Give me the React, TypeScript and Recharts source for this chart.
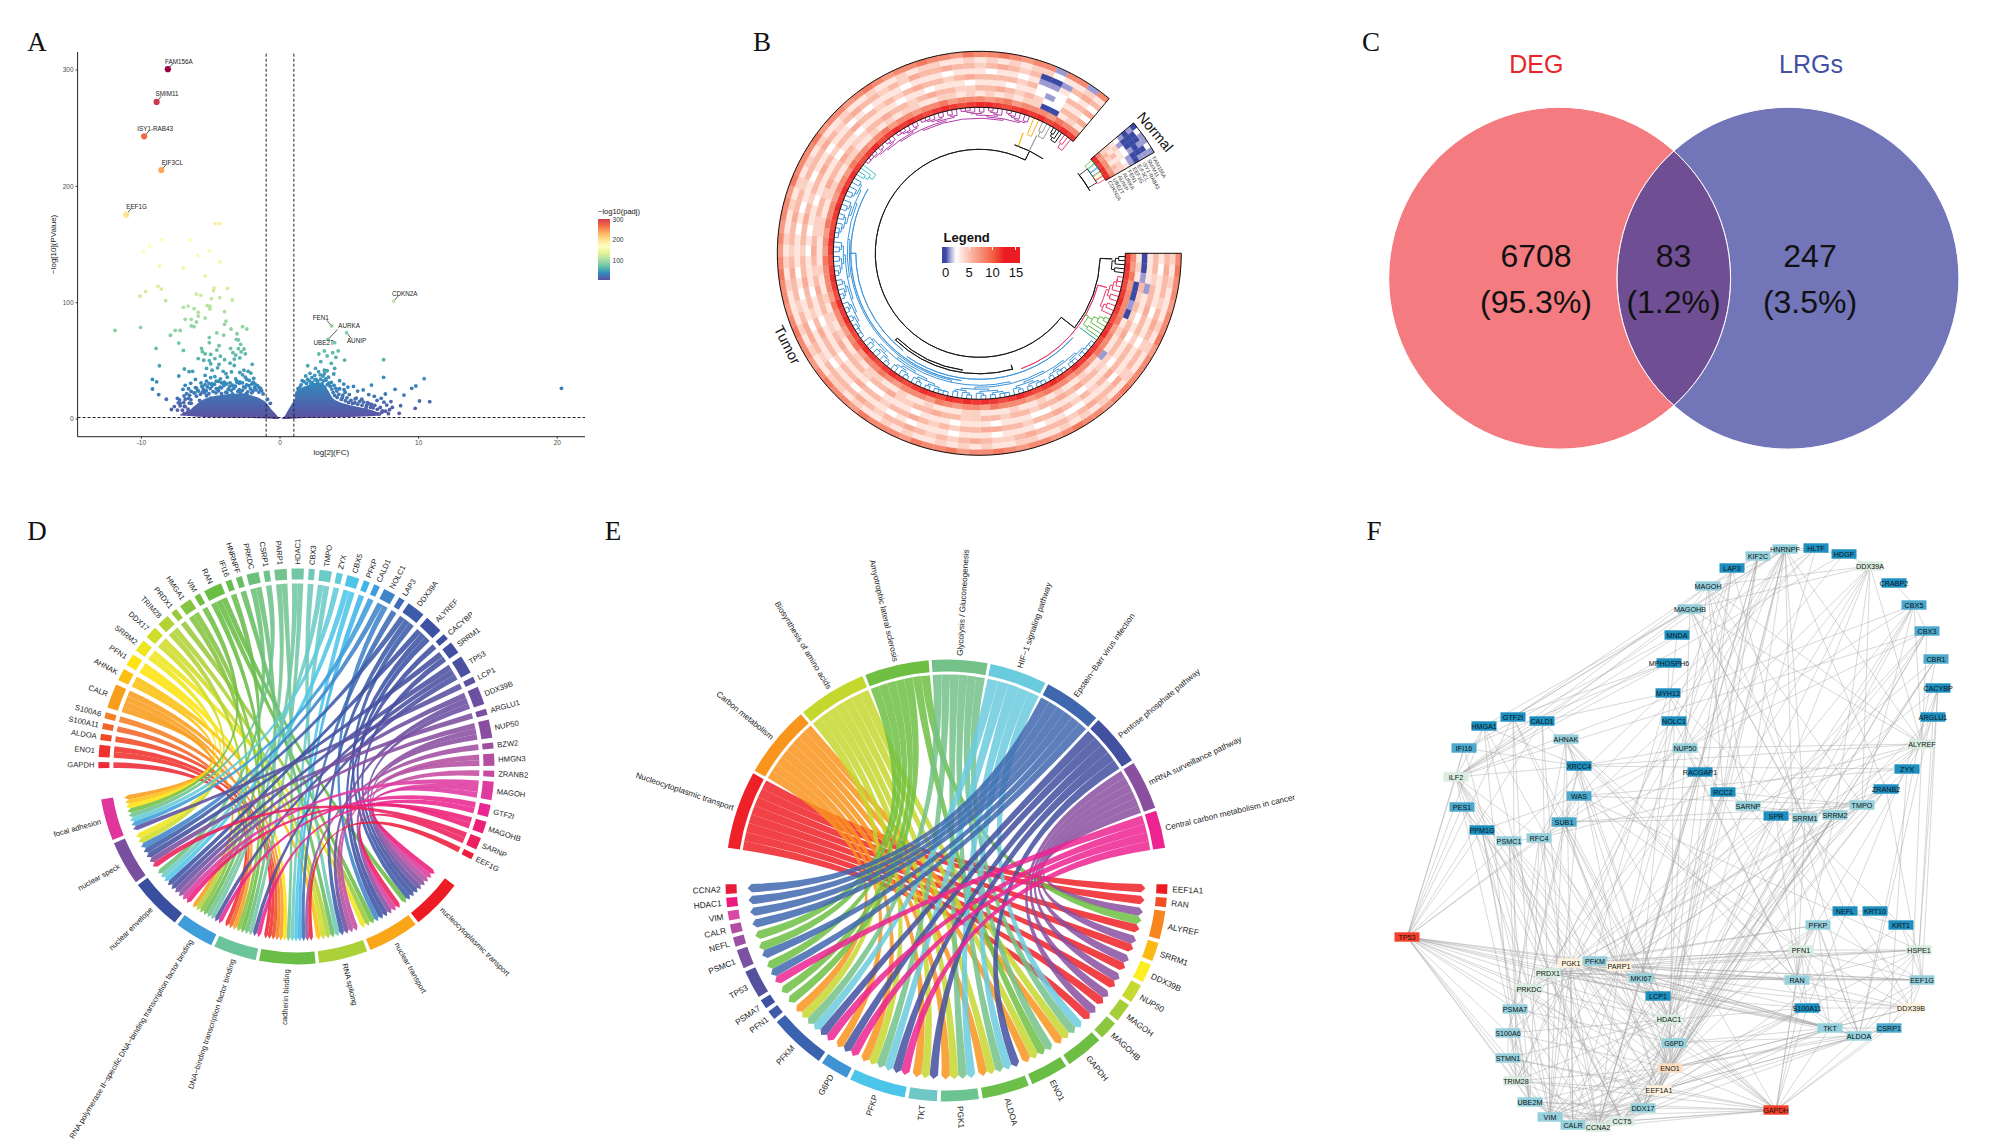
import React from 'react';
import { ComposedChart, ScatterChart, PieChart, Pie, Cell, Scatter, Area, XAxis, YAxis, ReferenceLine, Customized, Label } from 'recharts';

const SANS = '"Liberation Sans", Arial, sans-serif';

// ---------- A: volcano ----------
const volcanoTicksX = [-10, 0, 10, 20];
const volcanoTicksY = [0, 100, 200, 300];
const volcanoNamed = [
  { name: 'FAM156A', x: -8.09, y: 300.7, dx: 11, dy: -8 },
  { name: 'SMIM11', x: -8.9, y: 272.6, dx: 10.4, dy: -8 },
  { name: 'ISY1-RAB43', x: -9.8, y: 243, dx: 11, dy: -8 },
  { name: 'EIF3CL', x: -8.56, y: 214, dx: 11, dy: -8 },
  { name: 'EEF1G', x: -11.1, y: 175.7, dx: 10.4, dy: -8 },
  { name: 'CDKN2A', x: 8.2, y: 101.4, dx: 11, dy: -8 },
  { name: 'FEN1', x: 3.73, y: 80, dx: -11, dy: -8 },
  { name: 'AURKA', x: 3.47, y: 68.5, dx: 21, dy: -14 },
  { name: 'UBE2T', x: 3.94, y: 65.6, dx: -11, dy: 0 },
  { name: 'AUNIP', x: 4.8, y: 74.2, dx: 10, dy: 8 },
];
const volcanoPairs: number[][] = [
  [-4.66,168],[-4.34,168],[-8.56,154.4],[-6.47,153.9],[-9.4,148.4],[-9.84,144.4],[-5.1,144.4],[-5.94,140.4],[-4.34,135.2],[-8.69,131.5],
  [-6.97,129.5],[-5.4,122.9],[-8.8,114],[-8.56,111.7],[-9.7,109.7],[-10.1,105.7],[-8.25,101.7],[-4.75,112.6],[-3.78,112.3],[-4.8,110.3],
  [-6.03,107.4],[-5.72,106.3],[-4.94,103.4],[-4.34,104.3],[-3.44,102.3],[-6.97,96],[-6.63,97.1],[-6.2,94.8],[-5.25,97.4],[-5.06,97],
  [-5.06,94.6],[-4,92.3],[-5.9,91.7],[-5.9,88.5],[-5.4,86.8],[-6.84,85.7],[-6.4,85.7],[-6.03,83.4],[-3.9,84.2],[-4,81.4],
  [-6.4,80],[-6.2,79.4],[-11.9,76.2],[-10.06,78.8],[-7.56,76.2],[-7.2,76.2],[-7.9,72],[-4.56,74],[-4.06,72.2],[-3.53,77.4],
  [-2.7,79.4],[-2.4,77.4],[-3.1,73.3],[-5.1,70],[-3.15,68.5],[-3.0,68],[-7.3,65.3],[-5.1,65.6],[-4.4,63],[-2.84,64.2],
  [-8.94,60.7],[-6.97,59],[-5.66,60.7],[-5.6,57.9],[-4.56,59.3],[-3.56,60.7],[-3.0,60.5],[-2.6,60.2],[-5.4,56],[-5.0,55.5],
  [-3.4,57],[-3.2,55],[-2.8,57.8],[-2.5,56],[-5.9,52],[-5.5,50.5],[-5.1,50.2],[-4.7,52],[-4.3,54],[-4.0,51],
  [-3.3,51.5],[-2.9,52.5],[-5.0,47.5],[-4.4,47],[-3.6,48],[-3.3,46],[-2.0,47],[-8.7,45.8],[-6.9,43],[-6.56,40.7],
  [-6.3,41],[-5.3,43.5],[-4.9,42],[-4.5,44],[-4.1,41],[-3.9,39],[-3.5,40.5],[-2.9,40],[-2.6,42],[-2.3,41],
  [-2.1,39.5],[-2.7,38],[-7.3,37],[-6.1,34],[-5.4,37.5],[-5.0,35.5],[-4.7,36.5],[-4.3,34.5],[-3.8,36],[-3.2,34.5],
  [-2.5,36],[-1.9,35],[-9.2,34],[-8.9,32],[-6.44,30.7],[-6.84,29],[-5.7,31],[-5.3,32.5],[-4.9,30.5],[-4.6,32.5],
  [-1.8,30],[-1.5,27],[-1.4,25],[-9.2,25.8],[-7,25.5],[-6.6,26],[-6.1,27],[-5.6,27.5],[-8.75,21],[-6.2,22.5],
  [-5.9,24],[-8.2,17],[-7.4,17.8],[-7.2,13.5],[-6.6,17.8],[-6.9,11],[-7.4,7.7],[-6.4,13.5],[-6.1,9.5],[-5.8,16],
  [-5.7,12],[-6.3,7],[-6.7,5.4],[-5.5,7],[-5.2,3.6],[-5.0,18],[-5.3,20],[-4.6,26],[-0.9,17],[-0.7,13.5],
  // grain along the top of the left cloud
  [-4.42,32.3],[-4.02,31.6],[-3.13,32.8],[-2.71,31.1],[-2.22,33.2],[-1.93,31.7],[-5.41,29.6],[-5.12,30.4],[-4.73,29.8],[-3.84,30.2],
  [-3.42,29.1],[-2.93,30.7],[-2.41,29.4],[-2.03,30.1],[-1.62,28.7],[-5.63,28.2],[-5.24,27.6],[-4.91,28.4],[-4.33,27.3],[-4.04,28.9],
  [-3.62,27.9],[-3.21,28.3],[-2.63,27.7],[-2.24,28.6],[-1.83,27.2],[-1.41,26.4],[-6.02,26.6],[-5.52,25.4],[-5.03,26.2],[-4.51,25.7],
  [-4.21,26.8],[-3.73,25.6],[-3.33,26.3],[-2.94,25.2],[-2.52,26.9],[-2.13,25.8],[-1.72,25.1],[-1.32,24.2],[-6.41,23.7],[-5.93,24.6],
  [-5.61,23.2],[-5.32,24.4],[-4.83,23.6],[-4.43,24.3],[-3.91,23.1],[-3.52,24.5],[-3.04,23.8],[-2.72,24.7],[-2.33,23.3],[-1.94,24.1],
  [-1.52,23.2],[-1.22,21.6],[-6.73,21.8],[-6.14,22.3],[-5.74,21.3],[-5.43,22.6],[-5.13,21.7],[-4.62,22.5],[-4.22,21.9],[-3.82,22.7],
  [-3.43,21.6],[-2.84,22.4],[-2.44,21.8],[-2.04,22.6],[-6.92,19.8],[-6.52,20.4],[-6.03,19.6],[-7.24,16.4],[-6.83,17.1],[-6.43,16.6],
  [-7.34,13.9],[-6.94,14.3],[-6.54,13.6],[-7.62,10.7],[-7.21,11.4],[-6.84,10.6],[-7.83,8.2],[-7.04,7.6],[-6.63,8.4],[-6.92,4.7],
  [7.47,51],[7.47,35.8],[10.4,34.7],[9.8,28.4],[9.5,26.4],[10.06,15.5],[10.8,14.9],[9.75,9.2],[8.94,20.6],[8.3,25.5],
  [20.3,26.4],[8.6,4.9],[8.7,11.5],[7.6,21.5],[6.6,29.2],[7.3,17.8],[4.2,58.5],[3.8,57],[4.66,50.7],[3.2,58.5],
  [2.8,55.9],[3.4,54.2],[4.03,53],[2.94,49.3],[3.7,47.9],[2,45.8],[2.56,43.6],[3.94,43.6],[3.2,42],[2.16,39.3],
  [2.78,40.7],[3.88,38.7],[3.2,39],[3.4,41.5],[2.9,38],[2.5,37.5],[1.85,37],[2.3,35.5],[3.5,36],[4.3,33],
  [4.6,30],[4.9,27.5],[5.3,28],[5.6,24],[6.0,25],[6.4,21],[6.8,19.5],[7.0,16],[7.5,14.5],[7.7,12],
  [8.0,15],[8.1,10],[7.9,8],[7.4,7],[7.1,4.5],[5.0,21],[5.5,18],[5.9,17],[6.3,14],[6.6,12.5],
  [4.3,26],[3.9,29],[3.7,31.5],[4.1,24],[4.7,23],[1.6,33],[1.3,26],[1.15,20],[-4.2,31],[-3.6,31],
  [-3.1,31.5],[-2.9,32],[-2.4,34],[2.6,34],[3.1,37],[3.3,34.5],[2.0,34],[4.5,18.5],[6.2,9.5],[5.4,14],
  // grain along the right cloud
  [1.52,29.4],[1.73,32.1],[1.91,30.6],[2.12,32.8],[2.33,31.2],[2.52,33.6],[2.71,32.3],[2.93,34.2],[3.12,32.7],[3.31,33.4],
  [3.52,30.8],[3.62,28.2],[3.74,25.7],[3.83,22.9],[3.94,20.3],[4.12,18.6],[4.24,21.2],[4.42,16.8],[4.53,20.6],[4.71,15.7],
  [4.83,18.2],[4.94,14.3],[5.12,16.1],[5.23,13.4],[5.42,17.3],[5.61,12.8],[5.74,15.2],[5.92,11.9],[6.03,14.6],[6.24,11.4],
  [6.42,13.2],[6.53,10.1],[6.72,9.6],[6.84,11.8],[7.02,8.3],[7.23,9.9],[7.34,5.8],[7.62,6.7],[7.82,4.6],[1.34,24.3],
  [1.43,27.1],[1.22,22.4],[3.41,29.6],[3.23,27.2],[2.84,29.8],[2.62,29.1],[2.24,30.3],[3.03,30.1],[4.03,26.4],[4.62,25.2],
];
const volcanoScatter = volcanoPairs.map(([x, y]) => ({ x, y }));
// solid cloud of points either side of zero: lower and upper edge
const cloudLeft = [
  { x: -7.2, low: 3, y: 4 }, { x: -6.6, low: 2.5, y: 7 }, { x: -6, low: 2, y: 13 }, { x: -5.5, low: 1.8, y: 17 }, { x: -5, low: 1.5, y: 19 }, { x: -4, low: 1.2, y: 21 }, { x: -3, low: 1, y: 22 },
  { x: -2.5, low: 1, y: 22 }, { x: -2, low: 0.8, y: 20 }, { x: -1.5, low: 0.6, y: 18 }, { x: -1, low: 0.4, y: 14 }, { x: -0.6, low: 0.2, y: 8 }, { x: -0.25, low: 0, y: 3.5 }, { x: -0.05, low: 0, y: 0.3 },
];
const cloudRight = [
  { x: 0.1, low: 0, y: 0.3 }, { x: 0.3, low: 0, y: 2 }, { x: 0.6, low: 0.1, y: 8 }, { x: 0.9, low: 0.2, y: 14 }, { x: 1.2, low: 0.4, y: 20 }, { x: 1.5, low: 0.6, y: 26 }, { x: 2, low: 0.8, y: 29 }, { x: 2.5, low: 0.9, y: 31 },
  { x: 3, low: 1, y: 31 }, { x: 3.4, low: 1.1, y: 26 }, { x: 3.8, low: 1.3, y: 18 }, { x: 4.2, low: 1.5, y: 15 }, { x: 5, low: 1.8, y: 12 }, { x: 6, low: 2.2, y: 9.5 }, { x: 6.8, low: 2.6, y: 7 }, { x: 7.3, low: 3, y: 4 },
];
const spectral = ['#5E4FA2', '#3288BD', '#66C2A5', '#ABDDA4', '#E6F598', '#FFFFBF', '#FEE08B', '#FDAE61', '#F46D43', '#D53E4F', '#9E0142'];
const colorbarTicks = [300, 200, 100];

// ---------- B: circular heatmap (hex digit = expression 0..15, inner ring first) ----------
const tumorRings = [
  'dedcdedcde cdedecdedc dedcdedede cdedcdedcd edcdedecde dcdedcdede dedcdecded edcdedcdee dcdedecded',
  '8797888978 8978878898 7888978878 9788878988 7987889788 8978798878 8798878978 8788978887 8978887988',
  '3430010343 3133433434 3343334433 3433433443 4334343433 4333443344 3344334343 4433443434 3434400343',
  '0015454565 5445565655 4554554455 6554465545 5565445565 4565445546 5565445565 5456554455 6545422556',
  '3331332323 3233323332 2333233323 3323332233 3233323323 3323233233 3323323333 2332333233 3233212332',
  '5545565545 5565454565 5455665545 4565545565 5455654556 5545565455 6545565545 4565545655 5545222556',
  '3233323323 3323332233 2333233323 3323233323 3233323323 2333232332 3323323233 3233323332 3323113232',
  '5655456545 5465565455 5654456545 4565545655 5545665455 6545565545 5565456554 5465565545 6545001565',
  '4343334343 3433434343 3443343434 3343433434 4334343334 3434334343 4343343343 3434433434 3434423343',
  '8988788978 8898788987 8878988798 8978889788 9878898788 9878788798 8897887898 7889887988 9878818818',
];
const normalRings = ['eedeee', '878878', '454354', '435344', '343323', '212211', '100100', '000001', '100101', '021121'];
const normalGenes = ['CDKN2A', 'UBE2T', 'AUNIP', 'AURKA', 'FEN1', 'EEF1G', 'EIF3CL', 'ISY1-RAB43', 'SMIM11', 'FAM156A'];
const heatStops: [number, string][] = [[0, '#3a49a3'], [1, '#9b9bd2'], [2, '#ffffff'], [3, '#fee6df'], [5, '#f9bba8'], [10, '#f26a4e'], [15, '#ec1c24']];
const legendTicks = [0, 5, 10, 15];
// dendrogram clades, clockwise from east
const cladeColors = ['#111111', '#e8386b', '#5cb947', '#2a9d8f', '#3b93d9', '#3fc1c9', '#b23fa8', '#f7b516', '#999999', '#111111', '#e8386b'];
const cladeSpans = [8, 17.5, 10, 1, 175, 6, 73, 4, 5, 5, 4.5];
const cladeLeaves = [5, 9, 6, 1, 92, 4, 40, 2, 3, 4, 3];
const cladeBase = [133, 132, 126, 124.5, 130, 130, 135, 128, 131, 134, 132];
// arcs: colour, radius, from, to
const dendroArcs: [string, number, number, number][] = [
  ['#111111', 104, 63.8, 322], ['#111111', 121, -38, -2.4], ['#111111', 120.5, 226, 286], ['#111111', 118, 226, 262],
  ['#111111', 114, 56, 72], ['#e8386b', 122.8, -70, -15], ['#3b93d9', 123.5, 180, 232], ['#3b93d9', 126, 235, 318], ['#3b93d9', 128.5, 150, 262],
];
// rises: colour, angle, inner radius, outer radius
const dendroRises: [string, number, number, number][] = [
  ['#111111', 63.8, 104, 114], ['#111111', 322, 104, 121], ['#111111', -2.4, 121, 133], ['#111111', 286, 116, 121], ['#111111', 226, 118, 121],
  ['#e8386b', -15, 122.8, 132], ['#5cb947', -30, 121, 126], ['#f7b516', 70, 114, 128], ['#999999', 64, 114, 131], ['#3b93d9', 180, 123.5, 130],
];

// ---------- C: venn ----------
const vennSets = ['DEG', 'LRGs'];
const vennCounts = ['6708', '83', '247'];
const vennShares = ['(95.3%)', '(1.2%)', '(3.5%)'];

// ---------- D: gene to GO term chord ----------
const goTerms = ['focal adhesion', 'nuclear speck', 'nuclear envelope', 'RNA polymerase II−specific DNA−binding transcription factor binding', 'DNA−binding transcription factor binding', 'cadherin binding', 'RNA splicing', 'nuclear transport', 'nucleocytoplasmic transport'];
const goWeights = [12.4, 13.2, 15.5, 11.6, 12.8, 16.7, 14.6, 15.3, 15.2];
const goColors = ['#e0359b', '#7b4fa0', '#3a4ea0', '#3f9dd9', '#6cc49a', '#6abd45', '#acd037', '#faa61a', '#ed1c24'];
const goGenes = ['GAPDH','ENO1','ALDOA','S100A11','S100A6','CALR','AHNAK','PFN1','SRRM2','DDX17','TRIM28','PRDX1','HMGA1','VIM','RAN','IFI16','HNRNPF','PRKDC','CSRP1','PARP1','HDAC1','CBX3','TMPO','ZYX','CBX5','PFKP','CALD1','NOLC1','LAP3','DDX39A','ALYREF','CACYBP','SRRM1','TP53','LCP1','DDX39B','ARGLU1','NUP50','BZW2','HMGN3','ZRANB2','MAGOH','GTF2I','MAGOHB','SARNP','EEF1G'];
const goGeneColors = ['#ee2737','#f0322d','#f04a25','#f2642a','#f57f25','#f99d1c','#fdc010','#fde30f','#eee61f','#cfdc29','#b2d235','#98ca3c','#85c441','#72be44','#6abd45','#69bd52','#69bd66','#6cc07a','#6ec28c','#73c48f','#72c6a6','#70c8b8','#6ccbc6','#62cbd9','#4fc6e8','#40b6e6','#3f9dd9','#4085c8','#3f6cb5','#3d5ba8','#3d52a3','#3f50a2','#4350a1','#4b50a0','#5a50a0','#6b4fa0','#7b4fa0','#8a4ea0','#a04ea0','#b44ea1','#c64ba0','#de3aa0','#ea2791','#ed1f79','#ed1f5c','#ed1f3a'];
const goLinks = [[5],[4,5],[5],[4],[5],[0,3,4,5],[0,6],[0,5],[1,7],[1,6],[3,6],[7],[3,4],[0],[4,7,8],[3],[6],[2,4],[0],[3,5],[3,4],[6],[2,5],[0],[2,5],[5],[0],[1,7],[5],[1,6,8],[2,7,8],[7],[1,8],[2,3,4],[0],[2,6,8],[1],[2,7,8],[5],[6,8],[6],[2,7,8],[3,4],[2,8],[1,7],[5]];

// ---------- E: gene to KEGG pathway chord ----------
const keggTerms = ['Nucleocytoplasmic transport', 'Carbon metabolism', 'Biosynthesis of amino acids', 'Amyotrophic lateral sclerosis', 'Glycolysis / Gluconeogenesis', 'HIF−1 signaling pathway', 'Epstein−Barr virus infection', 'Pentose phosphate pathway', 'mRNA surveillance pathway', 'Central carbon metabolism in cancer'];
const keggWeights = [21.1, 19.5, 18.6, 17.4, 15, 15.5, 15.7, 14, 13.3, 10.2];
const keggColors = ['#ee2128', '#f9941d', '#c4d72f', '#6fbf43', '#74c18a', '#6bcbde', '#3f67ae', '#4350a0', '#8a4f9f', '#ec2390'];
const keggGenes = ['EEF1A1','RAN','ALYREF','SRRM1','DDX39B','NUP50','MAGOH','MAGOHB','GAPDH','ENO1','ALDOA','PGK1','TKT','PFKP','G6PD','PFKM','PFN1','PSMA7','TP53','PSMC1','NEFL','CALR','VIM','HDAC1','CCNA2'];
const keggGeneColors = ['#ed1c24','#f04e23','#f7861e','#fdb913','#fcee21','#c6d92e','#a6ce39','#8cc63f','#6fbe44','#69bd45','#6cbf4b','#6cc490','#6ec8c5','#4bc5ea','#3f93d3','#3b62ae','#3f5aa8','#3e52a2','#54519f','#7a52a1','#9b4fa3','#b14fa3','#d94aa5','#ee1a7e','#e91c3a'];
const keggLinks = [[0],[0],[0,3,8],[0,8],[0,8],[0,8],[0,8],[0,8],[1,2,4,5],[1,2,3,4],[1,2,4,5,7],[1,2,4,5],[1,2,7],[1,2,4,5,7,9],[1,7,9],[1,2,4,5,7,9],[3],[3],[3,6,9],[3,6],[3],[6],[6],[6],[6]];

// ---------- F: PPI network (name, x, y, colour level) ----------
const nodeLevels = ['#1c8fc0', '#4aa9cd', '#95d0dc', '#d8ecdf', '#fff3dd', '#fddcc0', '#f4402b'];
const ppiNodes: [string, number, number, number][] = [
  ['HNRNPF',405,39,2],['HLTF',436,38,0],['KIF2C',378,46,2],['HDGF',464,44,0],['LAP3',352,58,0],['DDX39A',490,56,3],['CRABP2',514,73,0],['MAGOH',328,76,2],
  ['CBX5',534,95,1],['MAGOHB',310,99,2],['CBX3',547,121,1],['MNDA',297,125,0],['CBR1',556,149,1],['MPHOSPH6',289,153,0],['CACYBP',558,178,0],['MYH13',288,183,0],
  ['GTF2I',133,207,0],['ARGLU1',553,207,0],['CALD1',162,211,0],['NOLC1',294,211,0],['HMGA1',104,216,0],['AHNAK',186,229,2],['ALYREF',542,234,3],['IFI16',84,238,1],
  ['NUP50',305,238,2],['XRCC4',199,256,0],['ZYX',527,259,0],['RACGAP1',320,262,0],['ILF2',76,267,3],['ZRANB2',506,279,0],['RCC2',343,282,0],['WAS',199,286,1],
  ['TMPO',482,295,2],['PES1',82,297,1],['SARNP',368,296,2],['SPR',396,306,0],['SRRM2',455,305,2],['SRRM1',425,308,2],['SUB1',184,312,1],['PPM1G',102,320,0],
  ['RFC4',159,328,2],['PSMC1',129,331,2],['NEFL',465,401,0],['KRT10',495,401,0],['PFKP',438,415,2],['KRT1',521,415,0],['TP53',27,427,6],['PFN1',421,440,3],
  ['HSPE1',539,440,3],['PGK1',191,453,4],['PFKM',215,451,2],['PARP1',239,456,4],['PRDX1',168,463,3],['MKI67',261,468,2],['RAN',417,470,2],['EEF1G',542,470,2],
  ['PRKDC',149,479,3],['LCP1',278,486,0],['S100A11',427,498,0],['DDX39B',531,498,4],['PSMA7',135,499,2],['HDAC1',289,509,3],['TKT',450,518,2],['CSRP1',509,518,1],
  ['S100A6',128,523,2],['ALDOA',479,526,2],['G6PD',294,533,2],['STMN1',128,548,2],['ENO1',290,558,5],['TRIM28',136,571,3],['EEF1A1',279,580,4],['UBE2M',150,592,2],
  ['DDX17',263,598,2],['GAPDH',396,600,6],['VIM',170,607,2],['CCT5',242,611,3],['CALR',193,615,2],['CCNA2',218,617,3],
];
const ppiEdges: Record<string, string> = {
  TP53: 'ILF2 IFI16 HMGA1 GTF2I CALD1 PES1 PPM1G PSMC1 RFC4 SUB1 PGK1 PFKM PARP1 PRDX1 MKI67 LCP1 PRKDC PSMA7 S100A6 STMN1 TRIM28 UBE2M HDAC1 G6PD ENO1 TKT EEF1A1 VIM',
  GAPDH: 'HDAC1 G6PD ENO1 EEF1A1 DDX17 CCT5 CCNA2 CALR VIM UBE2M S100A11 TKT ALDOA RAN PFN1 CSRP1 PFKP PGK1 PFKM PARP1 TRIM28 STMN1 XRCC4 MKI67 DDX39B',
  ALYREF: 'NUP50 MAGOH MAGOHB HNRNPF SARNP SRRM1 SRRM2 TMPO DDX39A DDX39B XRCC4 RCC2 ZYX CBX5 CBX3 CACYBP ARGLU1',
  HNRNPF: 'KIF2C MAGOH MAGOHB SARNP SRRM1 DDX17 HDGF HLTF EEF1A1 PARP1 PRDX1 RAN TRIM28 HDAC1',
  DDX39A: 'MAGOH MAGOHB HDGF NUP50 SRRM2 SARNP TMPO PARP1 ENO1 PRKDC',
  MAGOH: 'MAGOHB NUP50 SARNP SRRM1 KIF2C TMPO RCC2 ILF2 GTF2I',
  MAGOHB: 'NUP50 SARNP SRRM1 CALD1 GTF2I HMGA1 SRRM2 DDX39B',
  CBX5: 'CBX3 CRABP2 ILF2 HDAC1 EEF1A1 PARP1 TMPO NUP50 LCP1',
  CBX3: 'ILF2 HDAC1 EEF1A1 TRIM28 ENO1 NUP50 MKI67',
  CBR1: 'ENO1 G6PD ALDOA DDX17 PGK1',
  CACYBP: 'S100A6 S100A11 ALDOA HSPE1 EEF1G',
  ARGLU1: 'SRRM2 HSPE1',
  ZYX: 'VIM CSRP1 PFN1 XRCC4 WAS',
  ZRANB2: 'SRRM1 HNRNPF PRKDC EEF1G CCT5 ENO1 PARP1',
  TMPO: 'WAS SUB1 HDAC1 PRKDC PARP1 MKI67 CCNA2 RCC2 SPR',
  SRRM2: 'SARNP RAN CCT5 HDAC1 DDX17 EEF1A1',
  SRRM1: 'DDX17 RAN EEF1A1 PARP1 SUB1 NEFL',
  SARNP: 'RCC2 NUP50 DDX39B',
  SPR: 'PGK1 RAN ALDOA ENO1',
  RCC2: 'RACGAP1 RFC4 CCNA2 MKI67',
  RACGAP1: 'MKI67 CCNA2 HDAC1 RFC4 PGK1 LAP3',
  NUP50: 'HDAC1 RAN XRCC4 WAS SUB1',
  NOLC1: 'PARP1 SUB1 HNRNPF ENO1 RAN',
  MYH13: 'VIM KRT1 CALD1 PFN1 MPHOSPH6',
  MNDA: 'IFI16 MKI67',
  MPHOSPH6: 'HMGA1 IFI16 ILF2',
  LAP3: 'CALR ENO1 PGK1 ALDOA KIF2C',
  KIF2C: 'CCNA2 MKI67 STMN1 HDAC1 RCC2 EEF1A1',
  HLTF: 'RFC4 PSMC1 ENO1 ILF2',
  HDGF: 'ILF2 NUP50',
  GTF2I: 'HDAC1 PRKDC TRIM28 HNRNPF ENO1',
  CALD1: 'ILF2 CALR VIM RAN',
  HMGA1: 'XRCC4 ILF2 TRIM28 PARP1 PRDX1',
  IFI16: 'ILF2 PRKDC XRCC4',
  AHNAK: 'VIM S100A6 S100A11 PFN1 CALR ENO1 XRCC4 HDAC1 RAN',
  XRCC4: 'PRKDC PARP1 SUB1 RFC4 HDAC1 ILF2',
  ILF2: 'PES1 PPM1G PRKDC ENO1 HNRNPF DDX17 EEF1A1 PSMC1 RFC4',
  WAS: 'VIM PFN1 HSPE1 SUB1 PPM1G',
  PES1: 'PPM1G CCT5 ENO1 UBE2M',
  SUB1: 'RFC4 PARP1 PRKDC EEF1A1 HDAC1 G6PD',
  PPM1G: 'UBE2M PSMC1 EEF1A1 PSMA7 CCT5 VIM',
  RFC4: 'PSMC1 CCNA2 MKI67 PARP1 PSMA7 UBE2M DDX17',
  PSMC1: 'PSMA7 UBE2M CCT5 CCNA2 HDAC1 PFKM',
  NEFL: 'KRT10 KRT1 PFKP',
  KRT10: 'KRT1',
  KRT1: 'HSPE1 EEF1G CCT5',
  PFKP: 'PGK1 PFKM G6PD ALDOA ENO1 TKT PFN1 HDAC1 EEF1G',
  PFN1: 'S100A11 ALDOA EEF1G HSPE1 VIM PFKM PGK1 PARP1 RAN TKT DDX39B',
  HSPE1: 'EEF1G PGK1 PRDX1 PARP1 ALDOA TKT S100A11 RAN',
  RAN: 'EEF1G PRDX1 PGK1 PARP1 MKI67 DDX39B S100A11',
  EEF1G: 'PGK1 PARP1 PRDX1 MKI67 CSRP1 TKT ALDOA DDX39B',
  DDX39B: 'PRDX1 ENO1 S100A11 PGK1 TKT',
  PGK1: 'PFKM PARP1 PRDX1 MKI67 LCP1 G6PD ENO1 ALDOA TKT CCNA2 VIM CALR DDX17 TRIM28',
  PFKM: 'PARP1 G6PD ENO1 ALDOA TKT LCP1 S100A11',
  PARP1: 'PRDX1 MKI67 HDAC1 PRKDC CCNA2 EEF1A1 ENO1 VIM',
  PRDX1: 'PRKDC PSMA7 ENO1 TKT VIM CCT5 ALDOA',
  MKI67: 'LCP1 CCNA2 HDAC1 TKT',
  LCP1: 'S100A11 TKT VIM CALR',
  PRKDC: 'HDAC1 VIM CCT5 CCNA2 EEF1A1 DDX17 PSMA7',
  PSMA7: 'S100A6 UBE2M CCNA2 CALR G6PD',
  S100A6: 'CALR VIM UBE2M S100A11 ENO1 STMN1',
  STMN1: 'CCNA2 TRIM28 VIM EEF1A1 HDAC1',
  TRIM28: 'HDAC1 ENO1 UBE2M CCT5 EEF1A1',
  UBE2M: 'CCNA2 DDX17 CCT5 CALR ENO1',
  VIM: 'CALR CCT5 DDX17 EEF1A1 G6PD ENO1 S100A11',
  CALR: 'CCNA2 CCT5 DDX17 EEF1A1 ENO1 ALDOA S100A11 G6PD TKT',
  CCNA2: 'CCT5 HDAC1 EEF1A1 G6PD',
  CCT5: 'DDX17 EEF1A1 ENO1 G6PD ALDOA TKT',
  DDX17: 'EEF1A1 HDAC1 ENO1',
  EEF1A1: 'ENO1 G6PD HDAC1 ALDOA TKT CSRP1 S100A11',
  ENO1: 'G6PD ALDOA TKT HDAC1 CSRP1',
  G6PD: 'ALDOA TKT',
  TKT: 'ALDOA CSRP1 S100A11',
  ALDOA: 'CSRP1 S100A11',
};

const panelLetters: [string, number, number][] = [['A', 37, 42], ['B', 762, 42], ['C', 1371, 42], ['D', 37, 531], ['E', 613, 531], ['F', 1374, 531]];

// helpers
const hexMix = (a: string, b: string, t: number) => {
  const p = (h: string, i: number) => parseInt(h.slice(i, i + 2), 16);
  const c = [1, 3, 5].map(i => Math.round(p(a, i) + (p(b, i) - p(a, i)) * t));
  return `rgb(${c[0]},${c[1]},${c[2]})`;
};
const spectralColor = (y: number) => {
  const t = Math.max(0, Math.min(0.9999, y / 300)) * 10;
  const i = Math.floor(t);
  return hexMix(spectral[i], spectral[i + 1], t - i);
};
const heatColor = (v: number) => {
  for (let i = 0; i < heatStops.length - 1; i++) {
    if (v <= heatStops[i + 1][0]) return hexMix(heatStops[i][1], heatStops[i + 1][1], (v - heatStops[i][0]) / (heatStops[i + 1][0] - heatStops[i][0]));
  }
  return heatStops[heatStops.length - 1][1];
};
const cells = (s: string) => s.replace(/ /g, '').split('').map(ch => ({ size: 1, heat: parseInt(ch, 16) }));

const Txt: React.FC<{ x: number; y: number; size: number; color?: string; font?: string; rotate?: number; bold?: boolean; children: React.ReactNode }> = ({ x, y, size, color = '#111', font = SANS, rotate = 0, bold, children }) => (
  <div style={{ position: 'absolute', left: x, top: y, fontSize: size, color, fontFamily: font, fontWeight: bold ? 700 : 400, whiteSpace: 'nowrap', lineHeight: 1, transform: `translate(-50%,-50%) rotate(${rotate}deg)` }}>{children}</div>
);

// same angle layout as a Pie with these settings, so ribbons meet the sectors
const pieSpans = (weights: number[], start: number, end: number, pad: number) => {
  const sign = Math.sign(end - start);
  const total = Math.abs(end - start) - pad * (weights.length - 1);
  const sum = weights.reduce((a, b) => a + b, 0);
  let cur = start;
  return weights.map(w => {
    const a0 = cur;
    const a1 = cur + sign * (w / sum) * total;
    cur = a1 + sign * pad;
    return [a0, a1];
  });
};
const polar = (cx: number, cy: number, r: number, deg: number) => {
  const a = (-deg * Math.PI) / 180;
  return `${(cx + r * Math.cos(a)).toFixed(2)} ${(cy + r * Math.sin(a)).toFixed(2)}`;
};
const radialLabel = (size: number, gap: number) => (p: any) => {
  const a = (-p.midAngle * Math.PI) / 180;
  const x = p.cx + (p.outerRadius + gap) * Math.cos(a);
  const y = p.cy + (p.outerRadius + gap) * Math.sin(a);
  const right = Math.cos(a) >= 0;
  const rot = right ? -p.midAngle : 180 - p.midAngle;
  return (
    <text key={p.name} x={x} y={y} transform={`rotate(${rot} ${x} ${y})`} textAnchor={right ? 'start' : 'end'} dominantBaseline="central" fontSize={size} fontFamily={SANS} fill="#222">
      {p.name}
    </text>
  );
};

const VolcanoDot = (p: any) => <circle cx={p.cx} cy={p.cy} r={1.9} fill={spectralColor(p.payload.y)} />;
const NamedDot = (p: any) => {
  const d = p.payload;
  const big = d.y > 170;
  const lx = p.cx + d.dx;
  const ly = p.cy + d.dy;
  return (
    <g>
      {d.dy !== 0 && <line x1={p.cx} y1={p.cy} x2={p.cx + d.dx * 0.45} y2={p.cy + d.dy * 0.7} stroke="#111" strokeWidth={0.7} />}
      <circle cx={p.cx} cy={p.cy} r={big ? 3.1 : 1.9} fill={spectralColor(d.y)} />
      <text x={lx} y={ly} textAnchor="middle" dominantBaseline="central" fontSize={6.3} fontFamily={SANS} fill="#222">{d.name}</text>
    </g>
  );
};

const VolcanoPanel = () => (
  <div style={{ position: 'absolute', left: 0, top: 0 }}>
    <ComposedChart width={680} height={480} margin={{ top: 52, left: 47.6, right: 95, bottom: 13.3 }}>
      <defs>
        <linearGradient id="cloudFill" gradientUnits="userSpaceOnUse" x1="0" y1="383" x2="0" y2="419">
          <stop offset="0%" stopColor="#3288BD" />
          <stop offset="100%" stopColor="#5E4FA2" />
        </linearGradient>
      </defs>
      <XAxis type="number" dataKey="x" domain={[-14.6, 22]} ticks={volcanoTicksX} height={30} allowDataOverflow tick={{ fontSize: 6.5, fill: '#4d4d4d', fontFamily: SANS }} tickSize={2} axisLine={{ stroke: '#222', strokeWidth: 1 }} tickLine={{ stroke: '#333' }}>
        <Label value="log[2](FC)" position="insideBottom" offset={12} style={{ fontSize: 8, fill: '#222', fontFamily: SANS }} />
      </XAxis>
      <YAxis type="number" dataKey="y" domain={[-15.2, 315.5]} ticks={volcanoTicksY} width={30} allowDataOverflow tick={{ fontSize: 6.5, fill: '#4d4d4d', fontFamily: SANS }} tickSize={2} axisLine={{ stroke: '#222', strokeWidth: 1 }} tickLine={{ stroke: '#333' }}>
        <Label value="−log[10](PValue)" angle={-90} position="insideLeft" offset={6} style={{ fontSize: 8, fill: '#222', fontFamily: SANS, textAnchor: 'middle' }} />
      </YAxis>
      <Area data={cloudLeft} dataKey={(d: any) => [d.low, d.y]} type="monotone" stroke="none" fill="url(#cloudFill)" fillOpacity={1} dot={false} activeDot={false} isAnimationActive={false} />
      <Area data={cloudRight} dataKey={(d: any) => [d.low, d.y]} type="monotone" stroke="none" fill="url(#cloudFill)" fillOpacity={1} dot={false} activeDot={false} isAnimationActive={false} />
      <Scatter data={volcanoScatter} dataKey="y" shape={VolcanoDot} isAnimationActive={false} />
      <Scatter data={volcanoNamed} dataKey="y" shape={NamedDot} isAnimationActive={false} />
      <ReferenceLine x={-1} stroke="#222" strokeDasharray="3 2" strokeWidth={1} />
      <ReferenceLine x={1} stroke="#222" strokeDasharray="3 2" strokeWidth={1} />
      <ReferenceLine y={1.3} stroke="#222" strokeDasharray="3 2" strokeWidth={1} />
    </ComposedChart>
    <Txt x={619} y={212} size={7.5}>−log10(padj)</Txt>
    <div style={{ position: 'absolute', left: 597.6, top: 219, width: 12, height: 61, background: `linear-gradient(to top, ${spectral.slice(0, 10).join(',')})` }} />
    {colorbarTicks.map((t, i) => <Txt key={t} x={618} y={220 + i * 20.3} size={6.5} color="#333">{t}</Txt>)}
  </div>
);

// open brackets of one clade, split unevenly down to its leaves
const cladeTree = (cx: number, cy: number, from: number, span: number, n: number, base: number, color: string) => {
  const out: React.ReactNode[] = [];
  const da = span / n;
  const step = Math.max(1.2, (146 - base) / (Math.ceil(Math.log2(n + 1)) + 1));
  let id = 0;
  const walk = (lo: number, hi: number, r: number): number => {
    if (hi - lo === 1) return from - (lo + 0.5) * da;
    const mid = lo + Math.max(1, Math.min(hi - lo - 1, Math.ceil((hi - lo) * 0.6)));
    const rr = r + step > 143 ? r : r + step;
    const link = (a: number, b: number) => {
      const leaf = b - a === 1;
      const ang = walk(a, b, rr);
      const top = leaf ? 146 : rr;
      out.push(<path key={id++} d={`M${polar(cx, cy, r, ang)} L${polar(cx, cy, top, ang)}`} stroke={color} strokeWidth={1} fill="none" />);
      return ang;
    };
    const a0 = link(lo, mid);
    const a1 = link(mid, hi);
    out.push(<path key={id++} d={`M${polar(cx, cy, r, a0)} A${r} ${r} 0 ${Math.abs(a0 - a1) > 180 ? 1 : 0} 1 ${polar(cx, cy, r, a1)}`} stroke={color} strokeWidth={1} fill="none" />);
    return (a0 + a1) / 2;
  };
  if (n === 1) {
    const a = from - da / 2;
    out.push(<path key="single" d={`M${polar(cx, cy, base, a)} L${polar(cx, cy, 146, a)}`} stroke={color} strokeWidth={1} />);
  } else {
    walk(0, n, base);
  }
  return out;
};

const HeatPanel = () => {
  const cx = 239.3;
  const cy = 233.3;
  const base = { cx, cy, dataKey: 'size', isAnimationActive: false, labelLine: false } as any;
  let cursor = -0.5;
  const trees = cladeSpans.map((s, i) => {
    const t = cladeTree(cx, cy, cursor, s, cladeLeaves[i], cladeBase[i], cladeColors[i]);
    cursor -= s;
    return <g key={i}>{t}</g>;
  });
  return (
    <div style={{ position: 'absolute', left: 740, top: 20 }}>
      <PieChart width={480} height={460} margin={{ top: 0, left: 0, right: 0, bottom: 0 }}>
        {tumorRings.map((s, i) => {
          const d = cells(s);
          return (
            <Pie key={`t${i}`} {...base} data={d} innerRadius={146 + i * 5.6} outerRadius={146 + (i + 1) * 5.6} startAngle={0} endAngle={-310}>
              {d.map((c, j) => <Cell key={j} fill={heatColor(c.heat)} stroke={heatColor(c.heat)} strokeWidth={0.3} />)}
            </Pie>
          );
        })}
        {normalRings.map((s, i) => {
          const d = cells(s);
          return (
            <Pie key={`n${i}`} {...base} data={d} innerRadius={146 + i * 5.6} outerRadius={146 + (i + 1) * 5.6} startAngle={40.2} endAngle={30}>
              {d.map((c, j) => <Cell key={j} fill={heatColor(c.heat)} stroke={heatColor(c.heat)} strokeWidth={0.3} />)}
            </Pie>
          );
        })}
        <Pie {...base} data={[{ size: 1 }]} innerRadius={146} outerRadius={202} startAngle={0} endAngle={-310} fill="none" stroke="#111" strokeWidth={1} />
        <Pie {...base} data={[{ size: 1 }]} innerRadius={146} outerRadius={202} startAngle={40.2} endAngle={30} fill="none" stroke="#111" strokeWidth={1} />
        {dendroArcs.map(([c, r, a, b], i) => (
          <Pie key={`a${i}`} {...base} data={[{ size: 1 }]} innerRadius={r} outerRadius={r} startAngle={a} endAngle={b} fill="none" stroke={c} strokeWidth={0.9} />
        ))}
        {dendroRises.map(([c, a, r0, r1], i) => (
          <Pie key={`r${i}`} {...base} data={[{ size: 1 }]} innerRadius={r0} outerRadius={r1} startAngle={a} endAngle={a - 0.03} fill="none" stroke={c} strokeWidth={0.9} />
        ))}
        <Pie {...base} data={[{ size: 1 }]} innerRadius={127} outerRadius={127} startAngle={29.5} endAngle={39} fill="none" stroke="#111" strokeWidth={0.9} />
        <Pie {...base} data={[{ size: 1 }, { size: 1 }, { size: 1 }, { size: 1 }, { size: 1 }]} innerRadius={137} outerRadius={146} startAngle={39.5} endAngle={30.5} paddingAngle={0.4}>
          {['#5cb947', '#3fc1c9', '#3b93d9', '#f7b516', '#e8386b'].map(c => <Cell key={c} fill="none" stroke={c} strokeWidth={0.8} />)}
        </Pie>
        <Pie {...base} data={[{ size: 1 }]} innerRadius={127} outerRadius={137} startAngle={38} endAngle={31} fill="none" stroke="#111" strokeWidth={0.8} />
        <Customized component={() => (
          <g>
            {trees}
            {normalGenes.map((g, i) => {
              const r = 148.8 + i * 5.6;
              const a = (-29 * Math.PI) / 180;
              const x = cx + r * Math.cos(a);
              const y = cy + r * Math.sin(a);
              return <text key={g} x={x} y={y} transform={`rotate(61 ${x} ${y})`} fontSize={5.4} fontFamily={SANS} fill="#333" dominantBaseline="central">{g}</text>;
            })}
          </g>
        )} />
      </PieChart>
      <Txt x={46.7} y={325} size={14.5} rotate={63}>Tumor</Txt>
      <Txt x={415} y={112} size={14.5} rotate={50}>Normal</Txt>
      <Txt x={226.7} y={216.7} size={13} bold>Legend</Txt>
      <div style={{ position: 'absolute', left: 202.3, top: 227.3, width: 77.7, height: 16, background: 'linear-gradient(to right, #3a49a3 0%, #3a49a3 5%, #9b9bd2 10%, #ffffff 18%, #fbbfac 35%, #f0593b 67%, #ec1c24 80%, #ec1c24 100%)' }} />
      {legendTicks.map((t, i) => (
        <div key={t} style={{ position: 'absolute', left: 205.2 + i * 23.4, top: 227.3, width: 1, height: i === 0 ? 0 : 3, background: '#fff' }} />
      ))}
      {legendTicks.map((t, i) => <Txt key={t} x={205.7 + i * 23.4} y={251.7} size={13}>{t}</Txt>)}
    </div>
  );
};

const VennPanel = () => (
  <div style={{ position: 'absolute', left: 1360, top: 0 }}>
    <PieChart width={648} height={480} margin={{ top: 0, left: 0, right: 0, bottom: 0 }}>
      <Pie data={[{ size: 1 }]} dataKey="size" cx={199.6} cy={278.2} outerRadius={171} innerRadius={0} fill="#f47c80" stroke="none" isAnimationActive={false} />
      <Pie data={[{ size: 1 }]} dataKey="size" cx={428} cy={278.2} outerRadius={171} innerRadius={0} fill="#373b9b" fillOpacity={0.7} stroke="none" isAnimationActive={false} />
      <Pie data={[{ size: 1 }]} dataKey="size" cx={428} cy={278.2} outerRadius={171} innerRadius={171} fill="none" stroke="#fff" strokeWidth={0.8} isAnimationActive={false} />
      <Pie data={[{ size: 1 }]} dataKey="size" cx={199.6} cy={278.2} outerRadius={171} innerRadius={171} fill="none" stroke="#fff" strokeWidth={0.8} isAnimationActive={false} />
    </PieChart>
    <Txt x={176.3} y={63.5} size={25} color="#e8252b">{vennSets[0]}</Txt>
    <Txt x={451} y={63.5} size={25} color="#4450a3">{vennSets[1]}</Txt>
    {[176, 313.5, 450].map((x, i) => (
      <React.Fragment key={x}>
        <Txt x={x} y={256} size={32}>{vennCounts[i]}</Txt>
        <Txt x={x} y={302} size={32}>{vennShares[i]}</Txt>
      </React.Fragment>
    ))}
  </div>
);

const GoChord = () => {
  const cx = 296.4;
  const cy = 256.4;
  const genePad = 1.4;
  const termPad = 1;
  const geneData = goGenes.map((name, i) => ({ name, size: goLinks[i].length }));
  const termData = goTerms.map((name, i) => ({ name, size: goWeights[i] }));
  const geneSpans = pieSpans(goLinks.map(l => l.length), 180.5, -28, genePad);
  const termSpans = pieSpans(goWeights, 189.6, 323, termPad);
  const byTerm: number[][] = goTerms.map(() => []);
  goLinks.forEach((l, g) => l.forEach(t => byTerm[t].push(g)));
  const Ribbons = () => {
    const rg = 183;
    const rt = 175;
    return (
      <g>
        {goLinks.map((terms, g) => terms.map((t, k) => {
          const [g0, g1] = geneSpans[g];
          const gw = (g1 - g0) / terms.length;
          const [t0, t1] = termSpans[t];
          const pos = byTerm[t].indexOf(g);
          const tw = (t1 - t0) / byTerm[t].length;
          const a = t0 + pos * tw;
          const b = a + tw;
          const d = `M${polar(cx, cy, rg, g0 + k * gw)} A${rg} ${rg} 0 0 1 ${polar(cx, cy, rg, g0 + (k + 1) * gw)} Q${cx} ${cy} ${polar(cx, cy, rt - 4, b)} L${polar(cx, cy, rt, (a + b) / 2)} L${polar(cx, cy, rt - 4, a)} Q${cx} ${cy} ${polar(cx, cy, rg, g0 + k * gw)} Z`;
          return <path key={`${g}-${t}`} d={d} fill={goGeneColors[g]} fillOpacity={0.88} />;
        }))}
      </g>
    );
  };
  return (
    <div style={{ position: 'absolute', left: 0, top: 510 }}>
      <PieChart width={580} height={634} margin={{ top: 0, left: 0, right: 0, bottom: 0 }}>
        <Customized component={Ribbons} />
        <Pie data={geneData} dataKey="size" nameKey="name" cx={cx} cy={cy} innerRadius={187} outerRadius={198} startAngle={180.5} endAngle={-28} paddingAngle={genePad} stroke="none" label={radialLabel(7.6, 4)} labelLine={false} isAnimationActive={false}>
          {geneData.map((d, i) => <Cell key={d.name} fill={goGeneColors[i]} />)}
        </Pie>
        <Pie data={termData} dataKey="size" nameKey="name" cx={cx} cy={cy} innerRadius={186} outerRadius={198} startAngle={189.6} endAngle={323} paddingAngle={termPad} stroke="none" label={radialLabel(7.6, 5)} labelLine={false} isAnimationActive={false}>
          {termData.map((d, i) => <Cell key={d.name} fill={goColors[i]} />)}
        </Pie>
      </PieChart>
    </div>
  );
};

const KeggChord = () => {
  const cx = 346.5;
  const cy = 370.5;
  const genePad = 1;
  const termPad = 0.8;
  const geneData = keggGenes.map((name, i) => ({ name, size: keggLinks[i].length }));
  const termData = keggTerms.map((name, i) => ({ name, size: keggWeights[i] }));
  const geneSpans = pieSpans(keggLinks.map(l => l.length), -1, -179, genePad);
  const termSpans = pieSpans(keggWeights, 171.5, 8.5, termPad);
  const byTerm: number[][] = keggTerms.map(() => []);
  keggLinks.forEach((l, g) => l.forEach(t => byTerm[t].push(g)));
  byTerm.forEach(l => l.reverse());
  const Ribbons = () => {
    const rt = 206;
    const rg = 199;
    return (
      <g>
        {keggLinks.map((terms, g) => [...terms].reverse().map((t, k) => {
          const [g0, g1] = geneSpans[g];
          const gw = (g1 - g0) / terms.length;
          const [t0, t1] = termSpans[t];
          const pos = byTerm[t].indexOf(g);
          const tw = (t1 - t0) / byTerm[t].length;
          const a = t0 + pos * tw;
          const b = a + tw;
          const ga = g0 + k * gw;
          const gb = ga + gw;
          const d = `M${polar(cx, cy, rt, a)} A${rt} ${rt} 0 0 1 ${polar(cx, cy, rt, b)} Q${cx} ${cy} ${polar(cx, cy, rg - 4, ga)} L${polar(cx, cy, rg, (ga + gb) / 2)} L${polar(cx, cy, rg - 4, gb)} Q${cx} ${cy} ${polar(cx, cy, rt, a)} Z`;
          return <path key={`${g}-${t}`} d={d} fill={keggColors[t]} fillOpacity={0.85} />;
        }))}
      </g>
    );
  };
  return (
    <div style={{ position: 'absolute', left: 600, top: 510 }}>
      <PieChart width={780} height={634} margin={{ top: 0, left: 0, right: 0, bottom: 0 }}>
        <Customized component={Ribbons} />
        <Pie data={geneData} dataKey="size" nameKey="name" cx={cx} cy={cy} innerRadius={210} outerRadius={221} startAngle={-1} endAngle={-179} paddingAngle={genePad} stroke="none" label={radialLabel(8.3, 5)} labelLine={false} isAnimationActive={false}>
          {geneData.map((d, i) => <Cell key={d.name} fill={keggGeneColors[i]} />)}
        </Pie>
        <Pie data={termData} dataKey="size" nameKey="name" cx={cx} cy={cy} innerRadius={209} outerRadius={221} startAngle={171.5} endAngle={8.5} paddingAngle={termPad} stroke="none" label={radialLabel(8.2, 4)} labelLine={false} isAnimationActive={false}>
          {termData.map((d, i) => <Cell key={d.name} fill={keggColors[i]} />)}
        </Pie>
      </PieChart>
    </div>
  );
};

const NodeBox = (p: any) => {
  const d = p.payload;
  return (
    <g>
      <rect x={p.cx - 12.5} y={p.cy - 4.7} width={25} height={9.4} fill={nodeLevels[d.level]} />
      <text x={p.cx} y={p.cy} textAnchor="middle" dominantBaseline="central" fontSize={7.2} fontFamily={SANS} fill="#111">{d.name}</text>
    </g>
  );
};

const NetworkPanel = () => {
  const nodes = ppiNodes.map(([name, x, y, level]) => ({ name, x, y, level }));
  const at = new Map(nodes.map(n => [n.name, n]));
  const edges: [typeof nodes[0], typeof nodes[0]][] = [];
  Object.entries(ppiEdges).forEach(([from, list]) => {
    list.split(' ').forEach(to => {
      const a = at.get(from);
      const b = at.get(to);
      if (a && b) edges.push([a, b]);
    });
  });
  return (
    <div style={{ position: 'absolute', left: 1380, top: 510 }}>
      <ScatterChart width={628} height={634} margin={{ top: 0, left: 0, right: 0, bottom: 0 }}>
        <XAxis type="number" dataKey="x" domain={[0, 628]} hide />
        <YAxis type="number" dataKey="y" domain={[0, 634]} reversed hide />
        {edges.map(([a, b], i) => (
          <ReferenceLine key={i} segment={[{ x: a.x, y: a.y }, { x: b.x, y: b.y }]} stroke="#a0a0a0" strokeOpacity={0.75} strokeWidth={0.55} />
        ))}
        <Scatter data={nodes} dataKey="y" shape={NodeBox} isAnimationActive={false} />
      </ScatterChart>
    </div>
  );
};

export default function App() {
  return (
    <div style={{ position: 'absolute', left: 0, top: 0, width: 2008, height: 1144, background: '#fff', overflow: 'hidden' }}>
      <VolcanoPanel />
      <HeatPanel />
      <VennPanel />
      <GoChord />
      <KeggChord />
      <NetworkPanel />
      {panelLetters.map(([t, x, y]) => <Txt key={t} x={x} y={y} size={27} font={'"Liberation Serif", serif'}>{t}</Txt>)}
    </div>
  );
}
